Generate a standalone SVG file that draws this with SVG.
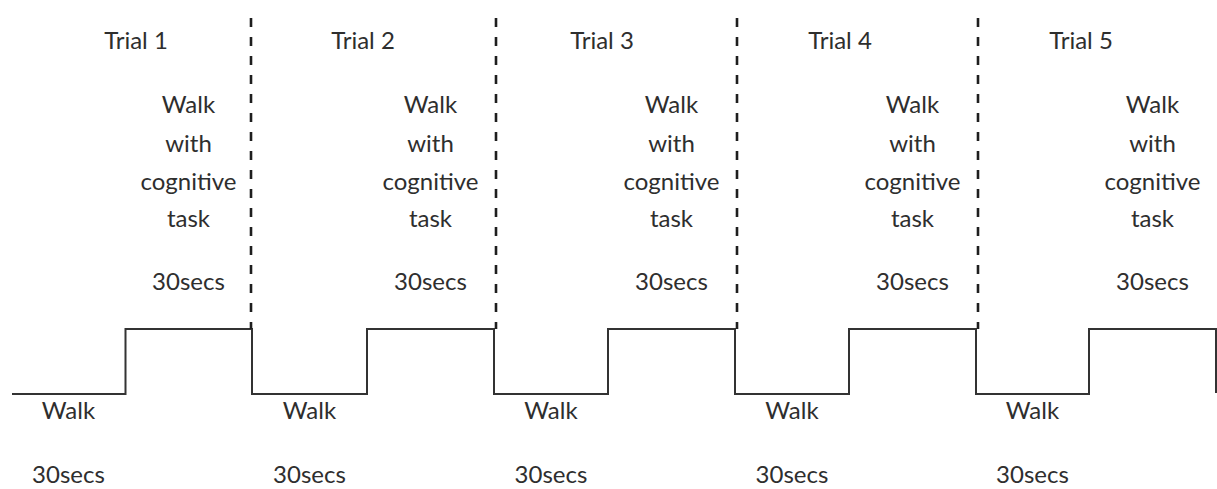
<svg xmlns="http://www.w3.org/2000/svg" width="1217" height="489" viewBox="0 0 1217 489">
<style>
text{font-family:Lato,"Open Sans","Liberation Sans",sans-serif;font-size:24px;fill:#2e2e2e;text-anchor:middle}
.sig{fill:none;stroke:#333;stroke-width:2}
.div{stroke:#1e1e1e;stroke-width:2.6;stroke-dasharray:9 10}
</style>
<rect width="1217" height="489" fill="#fff"/>
<g id="connectors">
<path class="sig" d="M12 394 H125.5 V329 H252 V394 H367 V329 H494 V394 H608 V329 H735 V394 H849 V329 H976 V394 H1089 V329 H1216 V393"/>
<line class="div" x1="251" y1="18" x2="251" y2="329"/>
<line class="div" x1="496" y1="18" x2="496" y2="329"/>
<line class="div" x1="737" y1="18" x2="737" y2="329"/>
<line class="div" x1="978" y1="18" x2="978" y2="329"/>
</g>
<g id="trial1">
<text x="136" y="49">Trial 1</text>
<text x="188.5" y="113">Walk</text><text x="188.5" y="152">with</text><text x="188.5" y="190">cognitive</text><text x="188.5" y="227">task</text><text x="188.5" y="290">30secs</text>
<text x="68.5" y="419">Walk</text><text x="68.5" y="483">30secs</text>
</g>
<g id="trial2">
<text x="363" y="49">Trial 2</text>
<text x="430.5" y="113">Walk</text><text x="430.5" y="152">with</text><text x="430.5" y="190">cognitive</text><text x="430.5" y="227">task</text><text x="430.5" y="290">30secs</text>
<text x="309.5" y="419">Walk</text><text x="309.5" y="483">30secs</text>
</g>
<g id="trial3">
<text x="602" y="49">Trial 3</text>
<text x="671.5" y="113">Walk</text><text x="671.5" y="152">with</text><text x="671.5" y="190">cognitive</text><text x="671.5" y="227">task</text><text x="671.5" y="290">30secs</text>
<text x="551" y="419">Walk</text><text x="551" y="483">30secs</text>
</g>
<g id="trial4">
<text x="840" y="49">Trial 4</text>
<text x="912.5" y="113">Walk</text><text x="912.5" y="152">with</text><text x="912.5" y="190">cognitive</text><text x="912.5" y="227">task</text><text x="912.5" y="290">30secs</text>
<text x="792" y="419">Walk</text><text x="792" y="483">30secs</text>
</g>
<g id="trial5">
<text x="1081" y="49">Trial 5</text>
<text x="1152.5" y="113">Walk</text><text x="1152.5" y="152">with</text><text x="1152.5" y="190">cognitive</text><text x="1152.5" y="227">task</text><text x="1152.5" y="290">30secs</text>
<text x="1032.5" y="419">Walk</text><text x="1032.5" y="483">30secs</text>
</g>
</svg>
